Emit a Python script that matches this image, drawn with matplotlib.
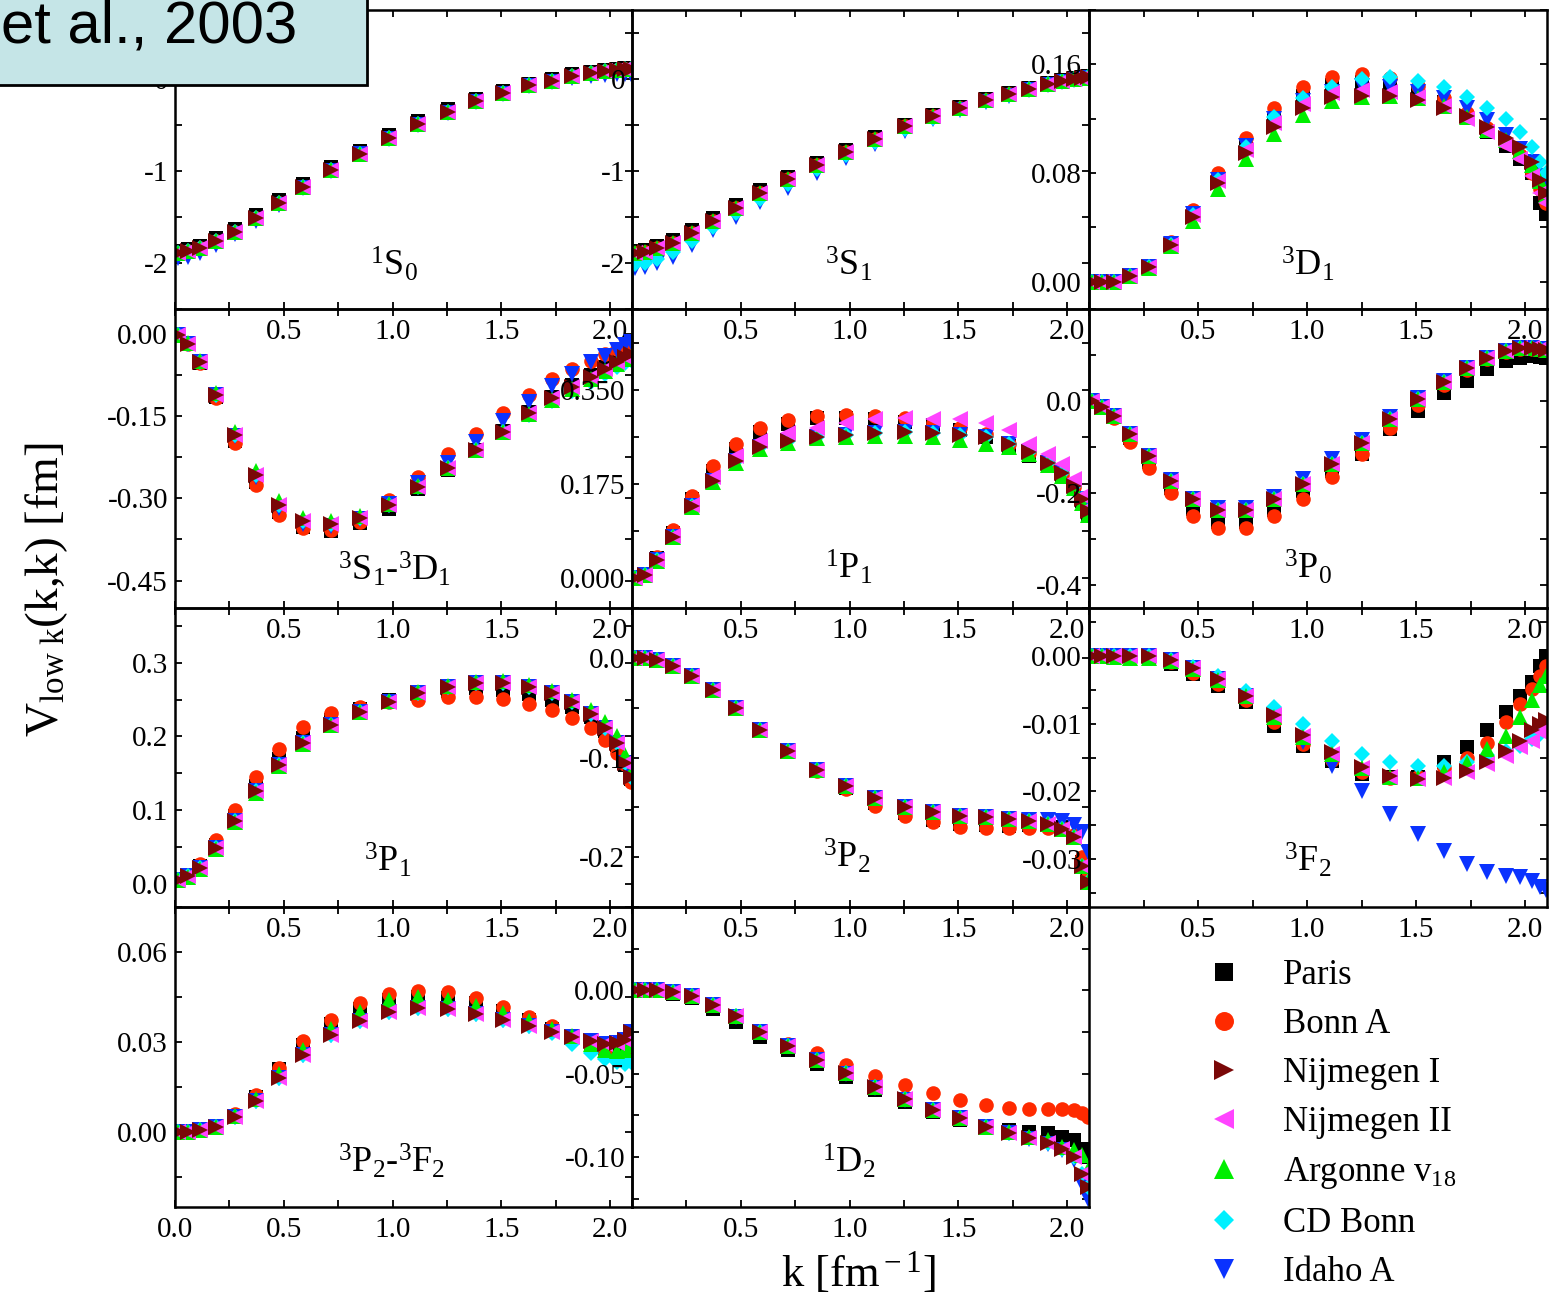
import matplotlib.pyplot as plt
from matplotlib.ticker import MultipleLocator, FixedLocator, FormatStrFormatter, FuncFormatter
from matplotlib.patches import Rectangle

plt.rcParams['font.family'] = 'Liberation Serif'
plt.rcParams['mathtext.fontset'] = 'custom'
plt.rcParams['mathtext.rm'] = 'Liberation Serif'
plt.rcParams['mathtext.it'] = 'Liberation Serif:italic'
plt.rcParams['axes.unicode_minus'] = False

# momentum mesh k [fm^-1]
k = [0.012, 0.06, 0.115, 0.19, 0.277, 0.374, 0.479, 0.59, 0.719, 0.848, 0.982, 1.115,
     1.253, 1.382, 1.507, 1.627, 1.733, 1.825, 1.912, 1.977, 2.032, 2.069, 2.097]

# ---- 1S0
s10_base = [-1.89, -1.87, -1.84, -1.76, -1.66, -1.51, -1.35, -1.17, -0.99, -0.81, -0.64, -0.49,
            -0.36, -0.24, -0.15, -0.07, -0.02, 0.03, 0.07, 0.09, 0.10, 0.11, 0.11]
s10_paris = [-1.87, -1.85, -1.81, -1.73, -1.63, -1.48, -1.32, -1.14, -0.96, -0.78, -0.61, -0.46,
             -0.33, -0.22, -0.13, -0.05, 0.0, 0.05, 0.08, 0.10, 0.11, 0.12, 0.12]
s10_idaho = [-1.95, -1.93, -1.89, -1.80, -1.69, -1.54, -1.37, -1.19, -1.00, -0.82, -0.65, -0.50,
             -0.37, -0.25, -0.16, -0.08, -0.03, 0.01, 0.03, 0.04, 0.05, 0.05, 0.05]

# ---- 3S1
s31_base = [-1.89, -1.88, -1.84, -1.78, -1.67, -1.54, -1.40, -1.24, -1.09, -0.94, -0.79, -0.65,
            -0.51, -0.40, -0.31, -0.23, -0.16, -0.11, -0.05, -0.02, 0.0, 0.01, 0.02]
s31_paris = [-1.87, -1.86, -1.82, -1.75, -1.64, -1.51, -1.37, -1.21, -1.06, -0.91, -0.77, -0.63,
             -0.50, -0.39, -0.30, -0.22, -0.15, -0.10, -0.04, -0.01, 0.01, 0.02, 0.03]
s31_cdbonn = [-2.01, -2.00, -1.96, -1.88, -1.76, -1.61, -1.46, -1.30, -1.14, -0.98, -0.83, -0.68,
              -0.54, -0.42, -0.33, -0.24, -0.17, -0.11, -0.05, -0.02, 0.0, 0.01, 0.02]
s31_idaho = [-2.05, -2.04, -2.00, -1.93, -1.80, -1.64, -1.50, -1.34, -1.19, -1.02, -0.86, -0.71,
             -0.56, -0.44, -0.34, -0.25, -0.18, -0.12, -0.06, -0.03, -0.01, 0.0, 0.01]

# ---- 3D1
d31_base = [0.0, 0.0, 0.0, 0.004, 0.011, 0.027, 0.048, 0.073, 0.095, 0.114, 0.128, 0.136,
            0.137, 0.137, 0.134, 0.128, 0.122, 0.114, 0.106, 0.099, 0.088, 0.075, 0.065]
d31_paris = [0.0, 0.0, 0.0, 0.004, 0.011, 0.028, 0.050, 0.076, 0.100, 0.120, 0.137, 0.145,
             0.147, 0.145, 0.140, 0.132, 0.121, 0.110, 0.100, 0.090, 0.080, 0.058, 0.050]
d31_bonna = [0.0, 0.0, 0.0, 0.004, 0.012, 0.029, 0.053, 0.080, 0.106, 0.128, 0.143, 0.151,
             0.153, 0.150, 0.144, 0.135, 0.124, 0.113, 0.103, 0.093, 0.080, 0.068, 0.058]
d31_nij2 = [0.0, 0.0, 0.0, 0.004, 0.011, 0.027, 0.049, 0.074, 0.097, 0.117, 0.131, 0.139,
            0.141, 0.140, 0.136, 0.129, 0.120, 0.110, 0.100, 0.090, 0.078, 0.065, 0.058]
d31_av18 = [0.0, 0.0, 0.0, 0.004, 0.010, 0.026, 0.045, 0.068, 0.090, 0.109, 0.123, 0.133,
            0.136, 0.137, 0.135, 0.129, 0.121, 0.112, 0.104, 0.096, 0.086, 0.074, 0.064]
d31_cdbonn = [0.0, 0.0, 0.0, 0.004, 0.011, 0.027, 0.049, 0.075, 0.099, 0.121, 0.135, 0.143,
              0.149, 0.151, 0.148, 0.143, 0.136, 0.128, 0.120, 0.110, 0.099, 0.088, 0.080]
d31_idaho = [0.0, 0.0, 0.0, 0.004, 0.011, 0.028, 0.050, 0.075, 0.100, 0.120, 0.133, 0.140,
             0.144, 0.143, 0.140, 0.135, 0.128, 0.119, 0.108, 0.098, 0.088, 0.078, 0.070]

# ---- 3S1-3D1
sd_base = [-0.003, -0.018, -0.051, -0.112, -0.185, -0.258, -0.312, -0.341, -0.347, -0.336, -0.312, -0.279,
           -0.245, -0.212, -0.179, -0.145, -0.118, -0.097, -0.079, -0.064, -0.051, -0.042, -0.037]
sd_paris = [-0.003, -0.019, -0.053, -0.115, -0.195, -0.270, -0.325, -0.352, -0.360, -0.345, -0.320, -0.284,
            -0.248, -0.212, -0.178, -0.143, -0.115, -0.093, -0.075, -0.060, -0.048, -0.040, -0.035]
sd_bonna = [-0.003, -0.019, -0.053, -0.117, -0.200, -0.276, -0.330, -0.355, -0.357, -0.343, -0.303, -0.262,
            -0.220, -0.182, -0.145, -0.111, -0.083, -0.064, -0.049, -0.037, -0.027, -0.021, -0.017]
sd_av18 = [-0.003, -0.017, -0.049, -0.108, -0.180, -0.250, -0.305, -0.336, -0.342, -0.332, -0.310, -0.278,
           -0.245, -0.212, -0.179, -0.147, -0.120, -0.100, -0.082, -0.068, -0.056, -0.047, -0.042]
sd_cdbonn = [-0.003, -0.018, -0.051, -0.112, -0.185, -0.258, -0.312, -0.341, -0.347, -0.336, -0.312, -0.279,
             -0.245, -0.212, -0.179, -0.148, -0.123, -0.104, -0.088, -0.073, -0.061, -0.053, -0.048]
sd_idaho = [-0.003, -0.018, -0.051, -0.112, -0.187, -0.262, -0.318, -0.346, -0.350, -0.338, -0.310, -0.272,
            -0.235, -0.197, -0.160, -0.125, -0.095, -0.074, -0.051, -0.040, -0.029, -0.021, -0.015]

# ---- 1P1
p11_base = [0.0, 0.006, 0.034, 0.077, 0.134, 0.181, 0.218, 0.243, 0.255, 0.262, 0.267, 0.270,
            0.271, 0.270, 0.267, 0.262, 0.250, 0.235, 0.215, 0.195, 0.172, 0.148, 0.125]
p11_paris = [0.0, 0.007, 0.038, 0.085, 0.147, 0.200, 0.240, 0.272, 0.287, 0.297, 0.298, 0.295,
             0.290, 0.284, 0.275, 0.263, 0.245, 0.228, 0.211, 0.190, 0.168, 0.143, 0.120]
p11_bonna = [0.0, 0.008, 0.040, 0.090, 0.153, 0.209, 0.250, 0.279, 0.294, 0.301, 0.303, 0.301,
             0.297, 0.288, 0.280, 0.268, 0.250, 0.232, 0.212, 0.192, 0.170, 0.145, 0.122]
p11_nij2 = [0.0, 0.006, 0.034, 0.078, 0.137, 0.188, 0.228, 0.255, 0.269, 0.279, 0.288, 0.295,
            0.297, 0.296, 0.295, 0.288, 0.275, 0.250, 0.231, 0.213, 0.185, 0.153, 0.130]
p11_av18 = [0.0, 0.006, 0.033, 0.076, 0.132, 0.179, 0.215, 0.240, 0.252, 0.260, 0.262, 0.265,
            0.265, 0.263, 0.256, 0.250, 0.243, 0.230, 0.210, 0.190, 0.168, 0.140, 0.118]

# ---- 3P0
p30_base = [0.0, -0.013, -0.032, -0.071, -0.119, -0.173, -0.214, -0.236, -0.236, -0.214, -0.180, -0.136,
            -0.091, -0.039, 0.004, 0.041, 0.071, 0.093, 0.108, 0.115, 0.115, 0.113, 0.110]
p30_paris = [0.0, -0.013, -0.035, -0.080, -0.132, -0.190, -0.235, -0.264, -0.264, -0.238, -0.195, -0.152,
             -0.115, -0.061, -0.022, 0.017, 0.043, 0.069, 0.087, 0.093, 0.097, 0.095, 0.093]
p30_bonna = [0.0, -0.014, -0.036, -0.090, -0.145, -0.201, -0.249, -0.275, -0.275, -0.251, -0.214, -0.165,
             -0.115, -0.058, -0.009, 0.035, 0.068, 0.092, 0.107, 0.114, 0.114, 0.112, 0.110]
p30_idaho = [0.0, -0.013, -0.032, -0.071, -0.119, -0.172, -0.212, -0.233, -0.232, -0.208, -0.170, -0.127,
             -0.085, -0.035, 0.007, 0.043, 0.072, 0.094, 0.109, 0.116, 0.116, 0.114, 0.111]

# ---- 3P1
p31_base = [0.005, 0.011, 0.022, 0.049, 0.086, 0.126, 0.162, 0.191, 0.216, 0.233, 0.247, 0.259,
            0.267, 0.273, 0.273, 0.267, 0.259, 0.247, 0.231, 0.211, 0.191, 0.164, 0.145]
p31_paris = [0.005, 0.011, 0.024, 0.053, 0.092, 0.133, 0.170, 0.198, 0.222, 0.237, 0.249, 0.258,
             0.262, 0.265, 0.263, 0.257, 0.250, 0.240, 0.226, 0.208, 0.188, 0.162, 0.142]
p31_bonna = [0.005, 0.012, 0.027, 0.060, 0.101, 0.145, 0.183, 0.213, 0.232, 0.240, 0.247, 0.250,
             0.254, 0.254, 0.251, 0.244, 0.236, 0.225, 0.211, 0.195, 0.178, 0.163, 0.138]
p31_av18 = [0.005, 0.010, 0.021, 0.047, 0.084, 0.124, 0.160, 0.190, 0.215, 0.233, 0.248, 0.260,
            0.268, 0.274, 0.275, 0.270, 0.262, 0.250, 0.236, 0.220, 0.200, 0.175, 0.150]

# ---- 3P2
p32_base = [0.0, 0.0, -0.002, -0.008, -0.018, -0.032, -0.050, -0.072, -0.093, -0.113, -0.129, -0.141,
            -0.150, -0.155, -0.159, -0.160, -0.162, -0.164, -0.167, -0.172, -0.180, -0.209, -0.225]
p32_paris = [0.0, 0.0, -0.002, -0.008, -0.018, -0.032, -0.050, -0.072, -0.093, -0.114, -0.131, -0.146,
             -0.156, -0.163, -0.167, -0.168, -0.169, -0.168, -0.168, -0.170, -0.180, -0.205, -0.220]
p32_bonna = [0.0, 0.0, -0.002, -0.008, -0.018, -0.032, -0.050, -0.072, -0.093, -0.114, -0.132, -0.149,
             -0.159, -0.165, -0.170, -0.171, -0.171, -0.171, -0.171, -0.171, -0.178, -0.200, -0.220]
p32_idaho = [0.0, 0.0, -0.002, -0.008, -0.018, -0.032, -0.050, -0.072, -0.093, -0.113, -0.129, -0.141,
             -0.150, -0.155, -0.159, -0.160, -0.162, -0.163, -0.163, -0.164, -0.168, -0.175, -0.195]

# ---- 3F2
f32_base = [0.0, 0.0, 0.0, 0.0, -0.0001, -0.0007, -0.0019, -0.0035, -0.0060, -0.0087, -0.0117, -0.0142,
            -0.0164, -0.0177, -0.0182, -0.0180, -0.0170, -0.0157, -0.0140, -0.0125, -0.0110, -0.0101, -0.0095]
f32_paris = [0.0, 0.0, 0.0, 0.0, -0.0003, -0.0012, -0.0027, -0.0045, -0.0068, -0.0103, -0.0133, -0.0155,
             -0.0174, -0.0179, -0.0178, -0.0157, -0.0135, -0.0110, -0.0083, -0.0059, -0.0039, -0.0015, 0.0]
f32_bonna = [0.0, 0.0, 0.0, 0.0, -0.0002, -0.0010, -0.0025, -0.0042, -0.0065, -0.0098, -0.0130, -0.0153,
             -0.0172, -0.0180, -0.0178, -0.0165, -0.0150, -0.0128, -0.0098, -0.0071, -0.0049, -0.0030, -0.0015]
f32_nij2 = [0.0, 0.0, 0.0, 0.0, -0.0001, -0.0007, -0.0019, -0.0035, -0.0060, -0.0088, -0.0118, -0.0145,
            -0.0166, -0.0178, -0.0182, -0.0180, -0.0172, -0.0160, -0.0148, -0.0135, -0.0125, -0.0112, -0.0105]
f32_av18 = [0.0, 0.0, -0.0002, -0.0003, -0.0004, -0.0008, -0.0020, -0.0036, -0.0060, -0.0090, -0.0120, -0.0145,
            -0.0165, -0.0178, -0.0180, -0.0172, -0.0158, -0.0137, -0.0118, -0.0090, -0.0066, -0.0044, -0.0030]
f32_cdbonn = [0.0, 0.0, 0.0, 0.0, -0.0001, -0.0006, -0.0017, -0.0030, -0.0052, -0.0075, -0.0100, -0.0125,
              -0.0145, -0.0157, -0.0162, -0.0162, -0.0157, -0.0147, -0.0140, -0.0133, -0.0123, -0.0115, -0.0110]
f32_idaho = [0.0, 0.0, 0.0, 0.0, -0.0001, -0.0007, -0.0019, -0.0035, -0.0060, -0.0090, -0.0127, -0.0162,
             -0.0199, -0.0233, -0.0263, -0.0288, -0.0307, -0.0319, -0.0325, -0.0326, -0.0332, -0.0340, -0.0345]

# ---- 3P2-3F2
pf_base = [0.0, 0.0, 0.0007, 0.0017, 0.0050, 0.0104, 0.0180, 0.0258, 0.0325, 0.0369, 0.0399, 0.0412,
           0.0409, 0.0392, 0.0372, 0.0352, 0.0332, 0.0318, 0.0302, 0.0295, 0.0298, 0.0308, 0.0332]
pf_paris = [0.0, 0.0, 0.0008, 0.0018, 0.0055, 0.0118, 0.0210, 0.0290, 0.0360, 0.0410, 0.0440, 0.0450,
            0.0448, 0.0430, 0.0405, 0.0375, 0.0345, 0.0318, 0.0295, 0.0280, 0.0275, 0.0280, 0.0290]
pf_bonna = [0.0, 0.0, 0.0008, 0.0019, 0.0060, 0.0125, 0.0215, 0.0302, 0.0372, 0.0429, 0.0459, 0.0470,
            0.0466, 0.0446, 0.0416, 0.0382, 0.0352, 0.0320, 0.0285, 0.0260, 0.0245, 0.0238, 0.0240]
pf_av18 = [0.0, 0.0, 0.0007, 0.0018, 0.0053, 0.0110, 0.0195, 0.0275, 0.0345, 0.0400, 0.0440, 0.0450,
           0.0440, 0.0420, 0.0396, 0.0370, 0.0345, 0.0320, 0.0295, 0.0275, 0.0270, 0.0275, 0.0290]
pf_cdbonn = [0.0, 0.0, 0.0007, 0.0017, 0.0050, 0.0104, 0.0180, 0.0258, 0.0325, 0.0369, 0.0399, 0.0412,
             0.0409, 0.0392, 0.0372, 0.0352, 0.0330, 0.0292, 0.0265, 0.0245, 0.0235, 0.0228, 0.0235]

# ---- 1D2
d12_base = [0.0, 0.0, 0.0, -0.0012, -0.0036, -0.0090, -0.0157, -0.0247, -0.0331, -0.0416, -0.0494, -0.0578,
            -0.0651, -0.0717, -0.0765, -0.0819, -0.0855, -0.0886, -0.0916, -0.0952, -0.1000, -0.1100, -0.1180]
d12_paris = [0.0, 0.0, -0.0005, -0.0020, -0.0045, -0.0110, -0.0190, -0.0280, -0.0360, -0.0440, -0.0520, -0.0600,
             -0.0670, -0.0730, -0.0780, -0.0820, -0.0840, -0.0850, -0.0855, -0.0880, -0.0900, -0.0950, -0.1000]
d12_bonna = [0.0, 0.0, 0.0, -0.0012, -0.0036, -0.0090, -0.0157, -0.0245, -0.0320, -0.0373, -0.0446, -0.0512,
             -0.0566, -0.0614, -0.0657, -0.0687, -0.0705, -0.0711, -0.0711, -0.0711, -0.0717, -0.0735, -0.0760]
d12_av18 = [0.0, 0.0, 0.0, -0.0012, -0.0036, -0.0090, -0.0157, -0.0247, -0.0331, -0.0416, -0.0494, -0.0578,
            -0.0651, -0.0717, -0.0765, -0.0819, -0.0850, -0.0880, -0.0900, -0.0940, -0.0960, -0.0990, -0.1080]
d12_idaho = [0.0, 0.0, 0.0, -0.0012, -0.0036, -0.0090, -0.0160, -0.0250, -0.0335, -0.0420, -0.0500, -0.0585,
             -0.0655, -0.0720, -0.0768, -0.0822, -0.0858, -0.0890, -0.0920, -0.0960, -0.1020, -0.1160, -0.1250]

potentials = ['Paris', 'Bonn A', 'Nijmegen I', 'Nijmegen II', r'Argonne v$_{18}$', 'CD Bonn', 'Idaho A']
markers = ['s', 'o', '>', '<', '^', 'D', 'v']
colors = ['#000000', '#ff2a00', '#7a0808', '#ff44ff', '#00ee00', '#00f0ff', '#0a32ff']
msizes = [9.5, 10.5, 11, 11, 11, 8, 11]
draw_order = [0, 1, 6, 5, 4, 3, 2]

# panels: (row, col, label, label position, series in potential order, ylim, yticks, minor step, format)
panels = [
    (0, 0, r'$^{1}\mathrm{S}_{0}$', (0.48, 0.15),
     [s10_paris, s10_base, s10_base, s10_base, s10_base, s10_base, s10_idaho],
     (-2.5, 0.75), [-2, -1, 0], 0.5, '%d'),
    (0, 1, r'$^{3}\mathrm{S}_{1}$', (0.473, 0.15),
     [s31_paris, s31_base, s31_base, s31_base, s31_base, s31_cdbonn, s31_idaho],
     (-2.5, 0.75), [-2, -1, 0], 0.5, '%d'),
    (0, 2, r'$^{3}\mathrm{D}_{1}$', (0.478, 0.15),
     [d31_paris, d31_bonna, d31_base, d31_nij2, d31_av18, d31_cdbonn, d31_idaho],
     (-0.02, 0.2), [0.0, 0.08, 0.16], 0.04, '%.2f'),
    (1, 0, r'$^{3}\mathrm{S}_{1}$-$^{3}\mathrm{D}_{1}$', (0.48, 0.13),
     [sd_paris, sd_bonna, sd_base, sd_base, sd_av18, sd_cdbonn, sd_idaho],
     (-0.5, 0.045), [-0.45, -0.30, -0.15, 0.0], 0.075, '%.2f'),
    (1, 1, r'$^{1}\mathrm{P}_{1}$', (0.475, 0.135),
     [p11_paris, p11_bonna, p11_base, p11_nij2, p11_av18, p11_base, p11_base],
     (-0.055, 0.5), [0.0, 0.175, 0.35], 0.0875, '%.3f'),
    (1, 2, r'$^{3}\mathrm{P}_{0}$', (0.478, 0.135),
     [p30_paris, p30_bonna, p30_base, p30_base, p30_base, p30_base, p30_idaho],
     (-0.45, 0.2), [-0.4, -0.2, 0.0], 0.1, '%.1f'),
    (2, 0, r'$^{3}\mathrm{P}_{1}$', (0.466, 0.155),
     [p31_paris, p31_bonna, p31_base, p31_base, p31_av18, p31_base, p31_base],
     (-0.031, 0.374), [0.0, 0.1, 0.2, 0.3], 0.05, '%.1f'),
    (2, 1, r'$^{3}\mathrm{P}_{2}$', (0.47, 0.17),
     [p32_paris, p32_bonna, p32_base, p32_base, p32_base, p32_base, p32_idaho],
     (-0.25, 0.05), [-0.2, -0.1, 0.0], 0.05, '%.1f'),
    (2, 2, r'$^{3}\mathrm{F}_{2}$', (0.478, 0.155),
     [f32_paris, f32_bonna, f32_base, f32_nij2, f32_av18, f32_cdbonn, f32_idaho],
     (-0.037, 0.007), [-0.03, -0.02, -0.01, 0.0], 0.005, '%.2f'),
    (3, 0, r'$^{3}\mathrm{P}_{2}$-$^{3}\mathrm{F}_{2}$', (0.473, 0.15),
     [pf_paris, pf_bonna, pf_base, pf_base, pf_av18, pf_cdbonn, pf_base],
     (-0.025, 0.075), [0.0, 0.03, 0.06], 0.015, '%.2f'),
    (3, 1, r'$^{1}\mathrm{D}_{2}$', (0.475, 0.15),
     [d12_paris, d12_bonna, d12_base, d12_base, d12_av18, d12_base, d12_idaho],
     (-0.13, 0.05), [-0.10, -0.05, 0.0], 0.025, '%.2f'),
]

W, H = 1549, 1299
col_px = [(175, 457), (632, 457), (1089, 458)]
row_px = [(10, 299), (309, 299), (608, 299), (907, 300)]

fig = plt.figure(figsize=(W / 100, H / 100), dpi=100)

handles = None
for row, col, label, lpos, series, ylim, yticks, ystep, yfmt in panels:
    x0, w = col_px[col]
    y0, h = row_px[row]
    ax = fig.add_axes([x0 / W, 1 - (y0 + h) / H, w / W, h / H])
    ax.set_facecolor('none')
    lines = [None] * 7
    for i in draw_order:
        ln, = ax.plot(k, series[i], linestyle='none', marker=markers[i], color=colors[i],
                      markersize=msizes[i], markeredgewidth=0)
        lines[i] = ln
    if handles is None:
        handles = lines
    ax.set_xlim(0, 2.1)
    ax.set_ylim(*ylim)
    ax.xaxis.set_major_locator(MultipleLocator(0.5))
    ax.xaxis.set_minor_locator(MultipleLocator(0.25))
    if row == 3 and col == 0:
        ax.xaxis.set_major_formatter(FormatStrFormatter('%.1f'))
    else:
        ax.xaxis.set_major_formatter(FuncFormatter(lambda v, p: '' if abs(v) < 1e-9 else '%.1f' % v))
    ax.yaxis.set_major_locator(FixedLocator(yticks))
    ax.yaxis.set_minor_locator(MultipleLocator(ystep))
    ax.yaxis.set_major_formatter(FormatStrFormatter(yfmt))
    ax.tick_params(which='both', direction='in', top=True, right=True, length=5, width=1.3)
    ax.tick_params(axis='x', labelsize=21, pad=7)
    ax.tick_params(axis='y', labelsize=21, pad=5)
    for sp in ax.spines.values():
        sp.set_linewidth(1.8)
    ax.text(lpos[0], lpos[1], label, transform=ax.transAxes, fontsize=26,
            ha='center', va='center')

fig.text(47 / W, 1 - 590 / H, r'V$_{\rm low\ k}$(k,k) [fm]', rotation=90,
         fontsize=34, ha='center', va='center')
fig.text(858 / W, 1 - 1272 / H, r'k [fm$^{\rm -1}$]', fontsize=32, ha='center', va='center')

fig.legend(handles, potentials, loc='upper left', bbox_to_anchor=(1207 / W, 1 - 959 / H),
           frameon=False, fontsize=25, markerscale=1.3, handlelength=1.0, handletextpad=1.2,
           labelspacing=0.46, borderpad=0, borderaxespad=0)

box = Rectangle((-0.01, 1 - 85 / H), 367 / W + 0.01, 85 / H + 0.01, transform=fig.transFigure,
                facecolor='#c5e5e7', edgecolor='black', linewidth=2, zorder=5, clip_on=False)
fig.add_artist(box)
fig.text(1 / W, 1 - 43 / H, 'et al., 2003', fontsize=43, family='Liberation Sans',
         ha='left', va='baseline', zorder=6)

fig.savefig('out.png', dpi=100)
